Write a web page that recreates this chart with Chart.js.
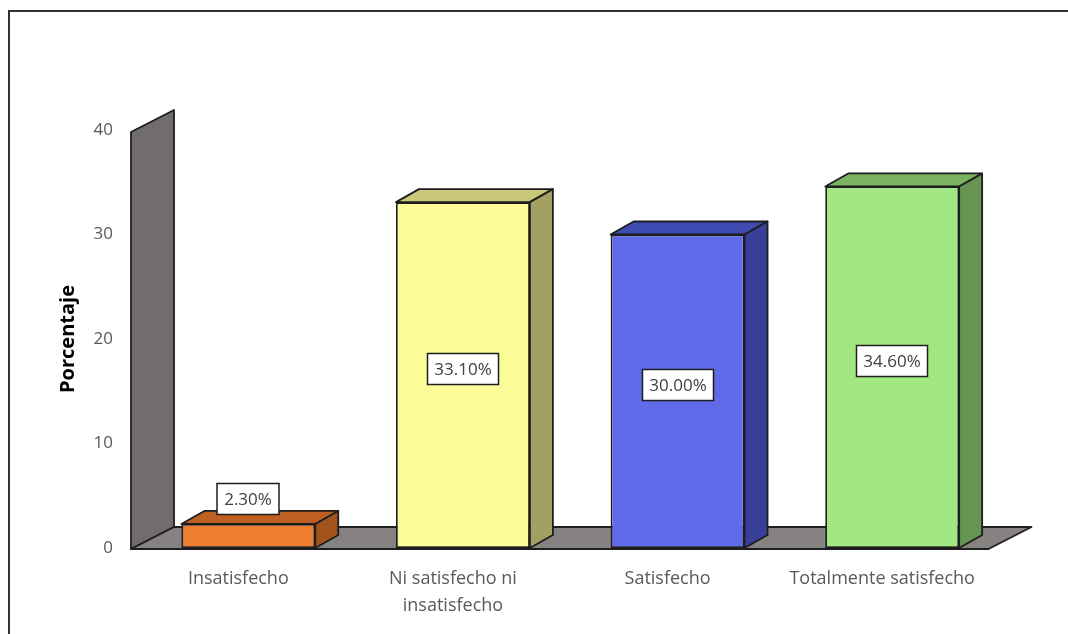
<!DOCTYPE html>
<html>
<head>
<meta charset="utf-8">
<script src="https://cdn.jsdelivr.net/npm/chart.js@4.4.0/dist/chart.umd.min.js"></script>
<style>
  html, body { margin: 0; padding: 0; background: #fff; }
  canvas { display: block; }
</style>
</head>
<body>
<canvas id="satisfaction-chart" width="1068" height="634"></canvas>
<script>
// ─── Data ─────────────────────────────────────────────────────────────────────
const categories  = ['Insatisfecho', ['Ni satisfecho ni', 'insatisfecho'], 'Satisfecho', 'Totalmente satisfecho'];
const percentages = [2.3, 33.1, 30.0, 34.6];
const yTicks      = [0, 10, 20, 30, 40];

// ─── Colours (front / top / side face of each box) ────────────────────────────
const FRONT = ['#ed7d31', '#fbfb98', '#5f6be9', '#a2e882'];
const TOP   = ['#bd6022', '#c9c879', '#3d4bb3', '#7ab35f'];
const SIDE  = ['#a2531c', '#a2a163', '#383f98', '#659550'];
const EDGE  = '#1e1e1e';
const WALL  = '#716d6d';
const FLOOR = '#878282';
const TEXT  = '#595959';
const FONT  = '"Open Sans", "Liberation Sans", sans-serif';

const BAR_DEPTH   = { x: 23, y: -13 };
const FLOOR_DEPTH = { x: 43, y: -22 };

const poly = (ctx, pts, fill) => {
    ctx.beginPath();
    pts.forEach(([px, py], i) => i ? ctx.lineTo(px, py) : ctx.moveTo(px, py));
    ctx.closePath();
    ctx.fillStyle = fill;
    ctx.fill();
    ctx.stroke();
};

// ─── Outer frame ──────────────────────────────────────────────────────────────
const frame = {
    id: 'frame',
    beforeDraw(chart) {
        const { ctx } = chart;
        ctx.save();
        ctx.strokeStyle = '#333';
        ctx.lineWidth = 2;
        ctx.strokeRect(9, 11, chart.width + 20, chart.height + 20);
        ctx.restore();
    }
};

// ─── Back wall, floor and 3D faces of the bars ────────────────────────────────
const box3d = {
    id: 'box3d',
    beforeDatasetsDraw(chart) {
        const { ctx, chartArea: a, scales: { y } } = chart;
        const left   = a.left - 10;
        const right  = a.right - 11;
        const top    = y.getPixelForValue(y.max) + 2;
        const bottom = y.getPixelForValue(0) + 1;
        const dx = FLOOR_DEPTH.x, dy = FLOOR_DEPTH.y;
        ctx.save();
        ctx.lineJoin = 'round';
        ctx.strokeStyle = EDGE;
        ctx.lineWidth = 1.8;
        poly(ctx, [[left, top], [left + dx, top + dy], [left + dx, bottom + dy], [left, bottom]], WALL);
        poly(ctx, [[left, bottom], [right, bottom], [right + dx, bottom + dy], [left + dx, bottom + dy]], FLOOR);
        ctx.restore();
    },
    afterDatasetsDraw(chart) {
        const { ctx } = chart;
        const dx = BAR_DEPTH.x, dy = BAR_DEPTH.y;
        ctx.save();
        ctx.lineJoin = 'round';
        ctx.strokeStyle = EDGE;
        ctx.lineWidth = 1.8;
        chart.getDatasetMeta(0).data.forEach((bar, i) => {
            const { x, y, width, base } = bar.getProps(['x', 'y', 'width', 'base'], true);
            const l = x - width / 2, r = x + width / 2;
            poly(ctx, [[l, y], [l + dx, y + dy], [r + dx, y + dy], [r, y]], TOP[i]);
            poly(ctx, [[r, y], [r + dx, y + dy], [r + dx, base + dy], [r, base]], SIDE[i]);
        });
        ctx.restore();
    }
};

// ─── Boxed value labels ───────────────────────────────────────────────────────
const valueLabels = {
    id: 'valueLabels',
    afterDraw(chart) {
        const { ctx } = chart;
        ctx.save();
        ctx.font = `17px ${FONT}`;
        ctx.textAlign = 'center';
        ctx.textBaseline = 'middle';
        chart.getDatasetMeta(0).data.forEach((bar, i) => {
            const text = percentages[i].toFixed(2) + '%';
            const w = Math.round(ctx.measureText(text).width + 14), h = 31;
            const tall = bar.base - bar.y > h + 20;
            const cx = Math.round(bar.x);
            const cy = Math.round(tall ? (bar.y + bar.base) / 2 + BAR_DEPTH.y / 2 : bar.y - 9 - h / 2);
            ctx.fillStyle = '#ffffff';
            ctx.fillRect(cx - w / 2, cy - h / 2, w, h);
            ctx.strokeStyle = EDGE;
            ctx.lineWidth = 1.5;
            ctx.strokeRect(cx - w / 2, cy - h / 2, w, h);
            ctx.fillStyle = '#404040';
            ctx.fillText(text, cx, cy + 1);
        });
        ctx.restore();
    }
};

new Chart(document.getElementById('satisfaction-chart'), {
    type: 'bar',
    data: {
        labels: categories,
        datasets: [{
            data: percentages,
            backgroundColor: FRONT,
            borderColor: EDGE,
            borderWidth: 1.8,
            borderSkipped: false,
            barPercentage: 0.624,
            categoryPercentage: 1
        }]
    },
    options: {
        responsive: false,
        animation: false,
        layout: { padding: { left: 52, right: 68.5, top: 130, bottom: 0 } },
        plugins: {
            legend:  { display: false },
            tooltip: { enabled: false }
        },
        scales: {
            x: {
                grid:   { display: false, drawTicks: false },
                border: { display: false },
                ticks: {
                    color: TEXT,
                    font: { family: FONT, size: 18, lineHeight: 1.5 },
                    padding: 17.5,
                    labelOffset: -10,
                    maxRotation: 0,
                    autoSkip: false
                },
                afterFit(s) { s.height = 86; }
            },
            y: {
                min: yTicks[0],
                max: yTicks[yTicks.length - 1],
                grid:   { display: false, drawTicks: false },
                border: { display: false },
                afterBuildTicks(s) { s.ticks = yTicks.map(v => ({ value: v })); },
                ticks: {
                    color: TEXT,
                    font: { family: FONT, size: 17 },
                    padding: 28
                },
                title: {
                    display: true,
                    text: 'Porcentaje',
                    color: '#000000',
                    font: { family: FONT, size: 20, weight: 'bold' }
                },
                afterFit(s) { s.width = 89; }
            }
        }
    },
    plugins: [frame, box3d, valueLabels]
});
</script>
</body>
</html>
